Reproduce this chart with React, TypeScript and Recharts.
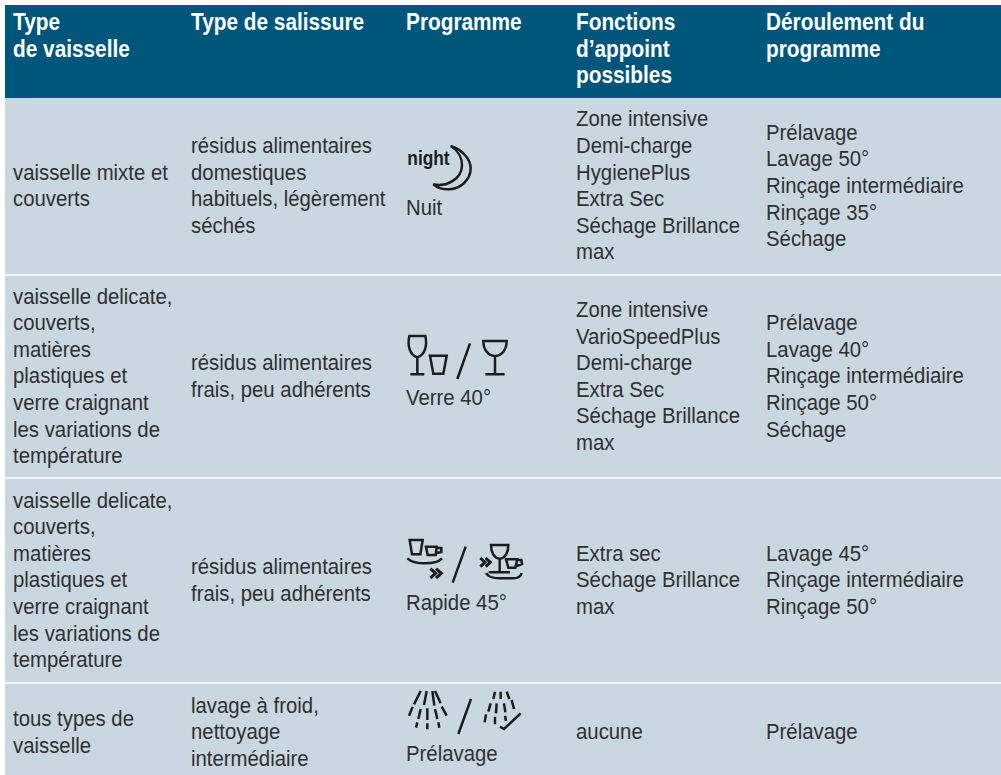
import { ComposedChart, Scatter, XAxis, YAxis, ReferenceArea } from "recharts";

const WIDTH = 1001;
const HEIGHT = 775;

const headers = [
  ["Type", "de vaisselle"],
  ["Type de salissure"],
  ["Programme"],
  ["Fonctions", "d’appoint", "possibles"],
  ["Déroulement du", "programme"],
];

const dishTypes = [
  ["vaisselle mixte et", "couverts"],
  ["vaisselle delicate,", "couverts,", "matières", "plastiques et", "verre craignant", "les variations de", "température"],
  ["vaisselle delicate,", "couverts,", "matières", "plastiques et", "verre craignant", "les variations de", "température"],
  ["tous types de", "vaisselle"],
];
const soilTypes = [
  ["résidus alimentaires", "domestiques", "habituels, légèrement", "séchés"],
  ["résidus alimentaires", "frais, peu adhérents"],
  ["résidus alimentaires", "frais, peu adhérents"],
  ["lavage à froid,", "nettoyage", "intermédiaire"],
];
const programNames = ["Nuit", "Verre 40°", "Rapide 45°", "Prélavage"];
const extras = [
  ["Zone intensive", "Demi-charge", "HygienePlus", "Extra Sec", "Séchage Brillance", "max"],
  ["Zone intensive", "VarioSpeedPlus", "Demi-charge", "Extra Sec", "Séchage Brillance", "max"],
  ["Extra sec", "Séchage Brillance", "max"],
  ["aucune"],
];
const phases = [
  ["Prélavage", "Lavage 50°", "Rinçage intermédiaire", "Rinçage 35°", "Séchage"],
  ["Prélavage", "Lavage 40°", "Rinçage intermédiaire", "Rinçage 50°", "Séchage"],
  ["Lavage 45°", "Rinçage intermédiaire", "Rinçage 50°"],
  ["Prélavage"],
];

const columnLeft = [13, 191, 406, 576, 766];
const rowTop = [98, 276, 479, 684];
const rowBottom = [274, 477, 682, 775];
const rowMid = [185.3, 375.8, 579.8, 731.8];
const programNameTop = [194.3, 384.3, 589.3, 740.3];
const iconOrigin = [
  { x: 400, y: 130 },
  { x: 400, y: 325 },
  { x: 400, y: 530 },
  { x: 400, y: 685 },
];

const LINE = 26.6;
const FONT = "'Liberation Sans', sans-serif";

type Cell = { x: number; y: number; lines: string[]; head?: boolean };

const cells: Cell[] = [];
headers.forEach((lines, c) => cells.push({ x: columnLeft[c], y: 9, lines, head: true }));
[dishTypes, soilTypes, null, extras, phases].forEach((col, c) => {
  if (!col) return;
  col.forEach((lines, r) => {
    cells.push({ x: columnLeft[c], y: rowMid[r] - (lines.length * LINE) / 2, lines });
  });
});
programNames.forEach((name, r) => {
  cells.push({ x: columnLeft[2], y: programNameTop[r], lines: [name] });
});

const icons = iconOrigin.map((o, i) => ({ ...o, icon: i }));

function TextCell(props: any) {
  const { cx, cy, payload } = props;
  const sx = payload.head ? 0.905 : 0.885;
  return (
    <text
      transform={`translate(${cx},0) scale(${sx},1)`}
      fontFamily={FONT}
      fontSize={23}
      fontWeight={payload.head ? 700 : 400}
      fill={payload.head ? "#ffffff" : "#303030"}
    >
      {payload.lines.map((l: string, i: number) => (
        <tspan key={i} x={0} y={cy + 21 + i * LINE}>
          {l}
        </tspan>
      ))}
    </text>
  );
}

// icon outlines are traced in a 3x grid, scaled back down in IconMark
const iconPaths = [
  [
    "M152 48 C190 60 212 90 212 115 C212 150 180 178 145 178 C125 178 110 172 100 163 C135 172 186 150 186 105 C186 85 175 62 152 48 Z",
  ],
  [
    "M28 33 H76 C82 60 76 90 52 97 C28 90 22 60 28 33 Z M52 97 V148 M31 148 H73",
    "M90 92 H140 L130 146 H100 Z",
    "M210 55 L172 162",
    "M250 48 H320 C320 75 305 92 285 93 C265 92 250 75 250 48 Z M285 93 V148 M256 148 H314",
  ],
  [
    "M29 30 H68 L61 73 H36 Z",
    "M78 50 H110 L107 75 H83 Z M110 54 H124 V66 L108 70",
    "M22 85 C35 97 60 100 75 100 C95 100 115 97 126 85",
    "M197 50 L158 158",
    "M273 45 H325 C325 68 315 85 299 86 C283 85 273 68 273 45 Z M299 86 V127 M266 127 H330",
    "M318 88 H352 L346 113 H325 Z M352 90 H364 L366 102 L347 110",
    "M258 129 C265 142 280 145 300 145 H340 C355 145 362 140 365 129",
  ],
  [
    "M62 18 L42 58 M80 18 L72 60 M97 18 L103 62 M105 18 L122 55",
    "M38 65 L27 92 M62 72 L55 102 M82 70 L82 105 M105 72 L112 102 M125 65 L140 92",
    "M52 112 L48 128 M82 115 L82 133 M115 112 L118 128",
    "M213 42 L175 147",
    "M285 20 L280 42 M302 20 L302 42 M320 20 L328 42",
    "M272 55 L265 80 M290 55 L288 85 M312 55 L316 82 M335 45 L342 72",
    "M258 88 L254 112 M285 95 L285 118 M315 92 L318 108",
    "M300 125 L312 132 L362 85",
  ],
];
const chevrons = [
  [],
  [],
  ["M91 116 L107 130 L91 144 M108 116 L124 130 L108 144", "M241 84 L255 97 L241 110 M257 84 L271 97 L257 110"],
  [],
];

function IconMark(props: any) {
  const { cx, cy, payload } = props;
  const i = payload.icon;
  return (
    <g transform={`translate(${cx},${cy}) scale(${1 / 3})`} fill="none" stroke="#1c1c1c" strokeWidth={7.5}>
      {i === 0 && (
        <text
          transform="translate(22,105) scale(0.88,1)"
          fontFamily={FONT}
          fontWeight={700}
          fontSize={59}
          fill="#1c1c1c"
          stroke="none"
        >
          night
        </text>
      )}
      {iconPaths[i].map((d: string, k: number) => (
        <path key={k} d={d} />
      ))}
      {chevrons[i].map((d: string, k: number) => (
        <path key={k} d={d} strokeWidth={9} />
      ))}
    </g>
  );
}

export default function App() {
  return (
    <div style={{ position: "absolute", left: 0, top: 0, width: WIDTH, height: HEIGHT }}>
      <ComposedChart width={WIDTH} height={HEIGHT} margin={{ top: 0, right: 0, bottom: 0, left: 0 }}>
        <XAxis type="number" dataKey="x" domain={[0, WIDTH]} hide />
        <YAxis type="number" dataKey="y" domain={[0, HEIGHT]} reversed hide />
        <ReferenceArea x1={5} x2={WIDTH} y1={5} y2={98} fill="#00567a" fillOpacity={1} />
        <ReferenceArea x1={5} x2={WIDTH} y1={98} y2={HEIGHT} fill="#f1f5f7" fillOpacity={1} />
        {rowTop.map((t, i) => (
          <ReferenceArea key={i} x1={5} x2={WIDTH} y1={t} y2={rowBottom[i]} fill="#c9d7e1" fillOpacity={1} />
        ))}
        <Scatter data={icons} isAnimationActive={false} shape={<IconMark />} />
        <Scatter data={cells} isAnimationActive={false} shape={<TextCell />} />
      </ComposedChart>
    </div>
  );
}
